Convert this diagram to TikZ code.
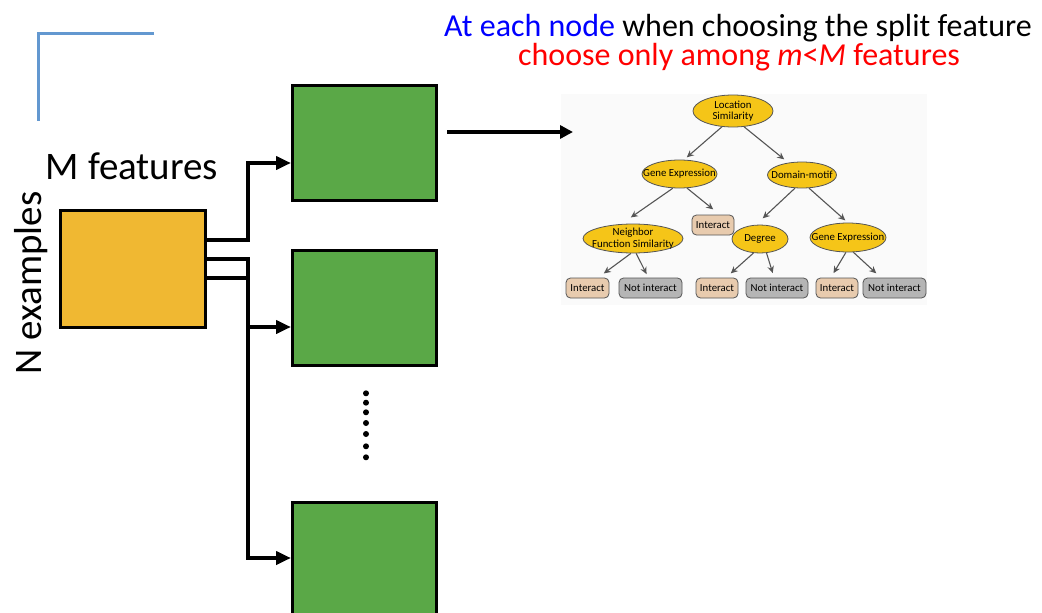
\documentclass[tikz,border=0pt]{standalone}
\usepackage{fontspec}
\setmainfont{Carlito}
\usetikzlibrary{arrows.meta,shapes.geometric,calc}
\definecolor{cornerblue}{HTML}{6398D0}
\definecolor{boxorange}{HTML}{F0B832}
\definecolor{boxgreen}{HTML}{5AA847}
\definecolor{treeyellow}{HTML}{F5C518}
\definecolor{treetan}{HTML}{E8CBAE}
\definecolor{treegray}{HTML}{B5B5B5}
\definecolor{treeline}{HTML}{555555}
\definecolor{treebg}{HTML}{FAFAFA}
\tikzset{
  bigbox/.style={draw=black,line width=3pt,minimum width=144pt,minimum height=115pt,inner sep=0pt},
  conn/.style={draw=black,line width=4pt,-{Triangle[length=15pt,width=13pt]}},
  bigtext/.style={font=\fontsize{39}{42}\selectfont,inner sep=0pt},
  ttl/.style={font=\fontsize{32}{34}\selectfont,inner sep=0pt,anchor=base},
  tfont/.style={font=\fontsize{10.8}{11.5}\selectfont},
  tlab/.style={tfont,inner sep=0pt,align=center},
  ell/.style={ellipse,draw=treeline,line width=0.8pt,fill=treeyellow,inner sep=0pt},
  leafI/.style={rectangle,rounded corners=4.5pt,draw=treeline,line width=0.8pt,fill=treetan,inner sep=0pt,minimum height=20pt,tfont},
  leafN/.style={leafI,fill=treegray},
  tarr/.style={draw=treeline,line width=1.1pt,-{Stealth[length=7pt,width=6.5pt]},shorten >=1pt}
}
\begin{document}
\begin{tikzpicture}[x=1pt,y=-1pt]
\useasboundingbox (0,0) rectangle (1042,613);
% blue corner
\draw[cornerblue,line width=3pt] (154,33) -- (38,33) -- (38,121);
% title
\node[ttl,text depth=0pt] (t1) at (738,36) {\textcolor{blue}{At each node} when choosing the split feature};
\node[ttl,text=red,text height=18pt] (t2) at (739,65) {choose only among \textit{m}<\textit{M} features};
% labels
\node[bigtext] (mf) at (132,166) {M features};
\node[bigtext,rotate=90] (ne) at (31,283) {N examples};
% boxes
\begin{scope}
\clip (0,0) rectangle (1042,613);
\node[bigbox,fill=boxorange,minimum width=145pt,minimum height=117pt] (o) at (133,269) {};
\node[bigbox,fill=boxgreen] (g1) at (364.5,142.5) {};
\node[bigbox,fill=boxgreen] (g2) at (364.5,308) {};
\node[bigbox,fill=boxgreen] (g3) at (364.5,559.5) {};
\end{scope}
% connectors
\draw[conn] ([yshift=29pt]o.east) -- ++(41,0) |- ([yshift=-20.5pt]g1.west);
\draw[conn] ([yshift=10pt]o.east) -- ++(41,0) |- ([yshift=-19pt]g2.west);
\draw[conn] ([yshift=-9pt]o.east) -- ++(41,0) |- ([yshift=1.5pt]g3.west);
% dots
\foreach \yy in {393.3,402.7,412.3,423,434,446.3,457.3} \fill (366,\yy) circle (3pt);
% tree background
\fill[treebg] (561,94) rectangle (927,305);
% big arrow
\coordinate (as) at (447,132);
\coordinate (ae) at (573,132);
\draw[line width=4pt,-{Triangle[length=13pt,width=13pt]}] (as) -- (ae);
% tree
\node[ell,minimum width=80pt,minimum height=32pt,label={[tlab]center:Location\\Similarity}] (ls) at (733,111) {};
\node[ell,minimum width=75pt,minimum height=28pt,label={[tlab]center:Gene Expression}] (ge1) at (679.5,174) {};
\node[ell,minimum width=69pt,minimum height=26pt,label={[tlab]center:Domain-motif}] (dm) at (802,175) {};
\node[ell,minimum width=100pt,minimum height=29pt,label={[tlab]center:Neighbor\\Function Similarity}] (nf) at (633,238.5) {};
\node[leafI,minimum width=42pt] (i0) at (713,225) {Interact};
\node[ell,minimum width=56pt,minimum height=28pt,label={[tlab]center:Degree}] (dg) at (760,239) {};
\node[ell,minimum width=76pt,minimum height=29pt,label={[tlab]center:Gene Expression}] (ge2) at (848,237.5) {};
\node[leafI,minimum width=43pt] (i1) at (587.5,288) {Interact};
\node[leafN,minimum width=63pt] (n1) at (650.5,288) {Not interact};
\node[leafI,minimum width=42pt] (i2) at (717,288) {Interact};
\node[leafN,minimum width=62pt] (n2) at (777,288) {Not interact};
\node[leafI,minimum width=42pt] (i3) at (837,288) {Interact};
\node[leafN,minimum width=63pt] (n3) at (894.5,288) {Not interact};
\coordinate (e1) at (686,158);
\coordinate (e2) at (785,160);
\coordinate (e3) at (630,218);
\coordinate (e4) at (714,210);
\coordinate (e5) at (762,219);
\coordinate (e6) at (846,221);
\draw[tarr] (ls.235) -- (e1);
\draw[tarr] (ls.305) -- (e2);
\draw[tarr] (ge1.245) -- (e3);
\draw[tarr] (ge1.298) -- (e4);
\draw[tarr] (dm.242) -- (e5);
\draw[tarr] (dm.298) -- (e6);
\coordinate (f1) at (603,274);
\coordinate (f2) at (647,275);
\coordinate (f3) at (730,274);
\coordinate (f4) at (773,274);
\coordinate (f5) at (833,274);
\coordinate (f6) at (877,274);
\draw[tarr] (nf.262) -- (f1);
\draw[tarr] (nf.282) -- (f2);
\draw[tarr] (dg.245) -- (f3);
\draw[tarr] (dg.295) -- (f4);
\draw[tarr] (ge2.262) -- (f5);
\draw[tarr] (ge2.290) -- (f6);
\end{tikzpicture}
\end{document}
